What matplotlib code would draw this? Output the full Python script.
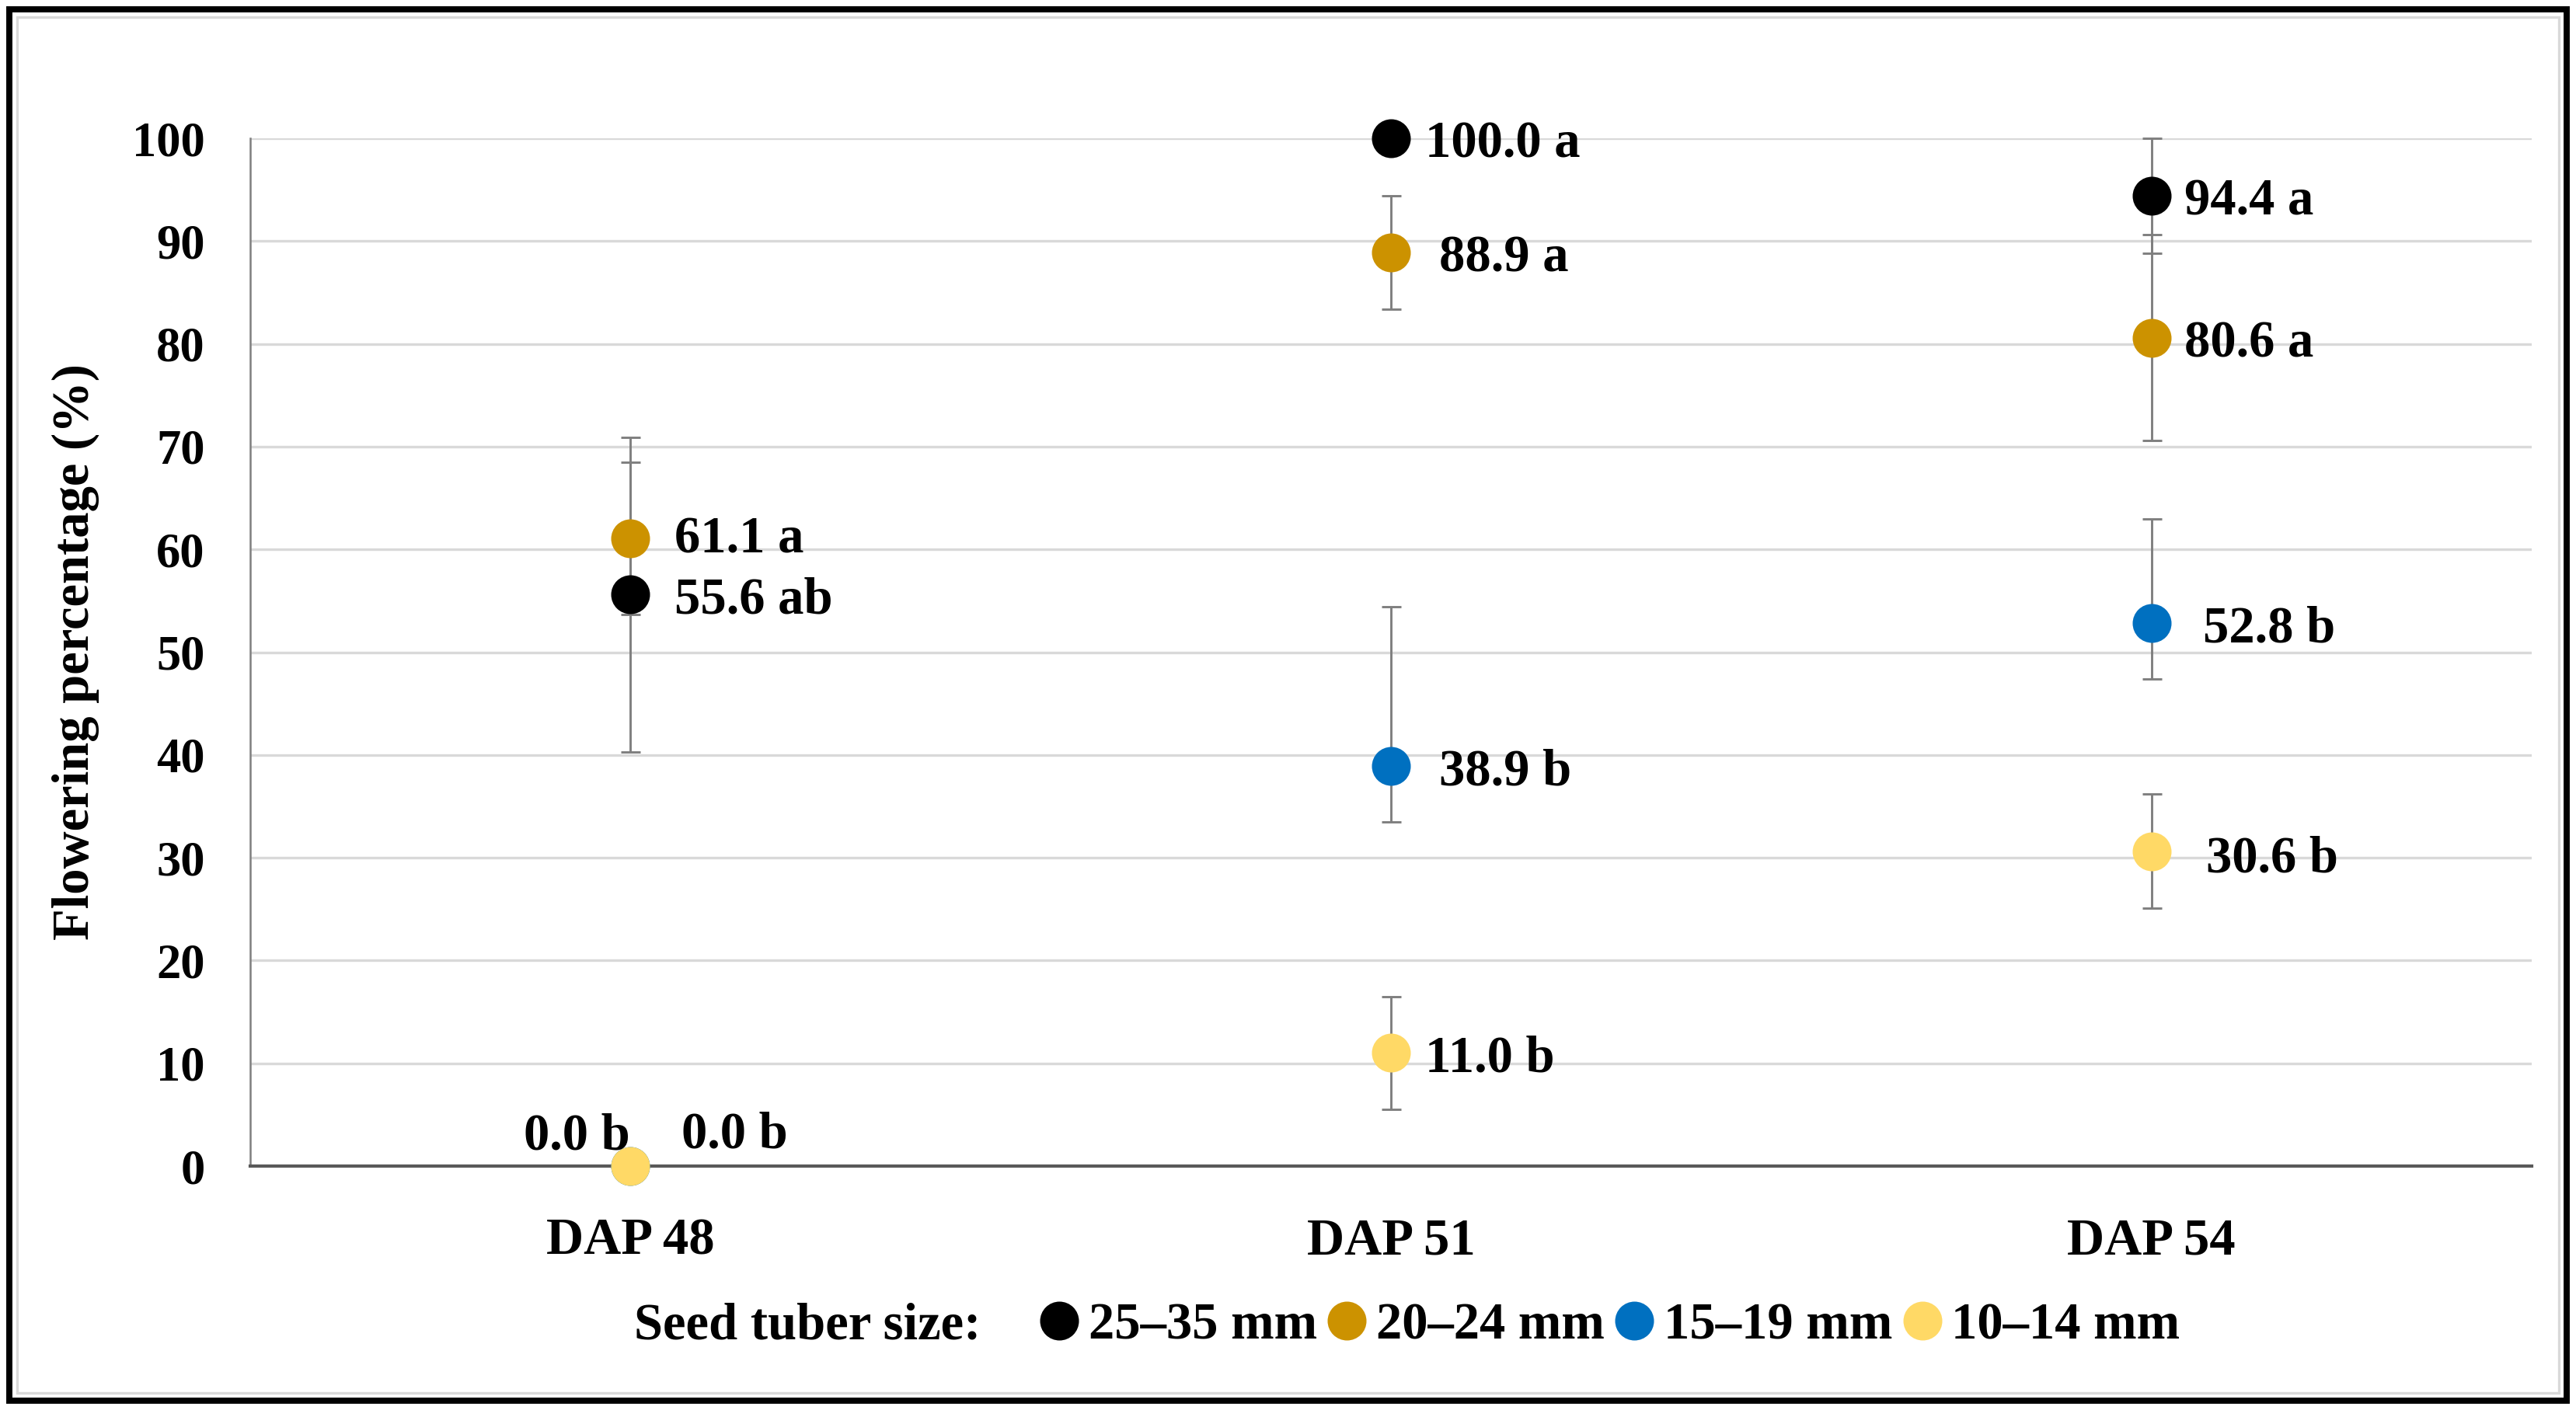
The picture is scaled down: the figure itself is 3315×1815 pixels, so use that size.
import numpy as np
import matplotlib.pyplot as plt
from matplotlib.lines import Line2D
from matplotlib.patches import Rectangle

plt.rcParams["font.family"] = ["Liberation Serif", "DejaVu Serif"]
plt.rcParams["font.weight"] = "bold"

# data
days = ["DAP 48", "DAP 51", "DAP 54"]
sizes = ["25–35 mm", "20–24 mm", "15–19 mm", "10–14 mm"]

flower_25_35 = [55.6, 100.0, 94.4]
flower_20_24 = [61.1, 88.9, 80.6]
flower_15_19 = [0.0, 38.9, 52.8]
flower_10_14 = [0.0, 11.0, 30.6]

err_lo_25_35 = [15.3, 0.0, 5.6]
err_hi_25_35 = [15.3, 0.0, 5.6]
err_lo_20_24 = [7.4, 5.5, 10.0]
err_hi_20_24 = [7.4, 5.5, 10.0]
err_lo_15_19 = [0.0, 5.4, 5.4]
err_hi_15_19 = [0.0, 15.5, 10.2]
err_lo_10_14 = [0.0, 5.5, 5.5]
err_hi_10_14 = [0.0, 5.5, 5.6]

letters_25_35 = ["ab", "a", "a"]
letters_20_24 = ["a", "a", "a"]
letters_15_19 = ["b", "b", "b"]
letters_10_14 = ["b", "b", "b"]

colors = ["#000000", "#CC9200", "#0070C0", "#FFD966"]

series = [
    (flower_25_35, err_lo_25_35, err_hi_25_35, letters_25_35),
    (flower_20_24, err_lo_20_24, err_hi_20_24, letters_20_24),
    (flower_15_19, err_lo_15_19, err_hi_15_19, letters_15_19),
    (flower_10_14, err_lo_10_14, err_hi_10_14, letters_10_14),
]

# label offsets in pixels (dx, dy, ha) per series / day
px = 72 / 300
label_offsets = [
    [(57, -8, "left"), (44, -8, "left"), (42, -8, "left")],
    [(57, -2, "left"), (62, -8, "left"), (42, -8, "left")],
    [(0, 38, "right"), (62, -8, "left"), (66, -8, "left")],
    [(66, 40, "left"), (44, -8, "left"), (70, -10, "left")],
]

fig = plt.figure(figsize=(11.05, 6.05), dpi=300)
ax = fig.add_axes([0.0971, 0.1730, 0.8857, 0.7289])

x = np.arange(len(days)) + 0.5
for k, (vals, lo, hi, let) in enumerate(series):
    ax.errorbar(x, vals, yerr=[lo, hi], fmt="none", ecolor="#7f7f7f",
                elinewidth=0.7, capsize=3, capthick=0.7, zorder=3, clip_on=False)
    ax.plot(x, vals, "o", color=colors[k], markersize=11, linestyle="none",
            zorder=4 + k, clip_on=False)
    for i, v in enumerate(vals):
        dx, dy, ha = label_offsets[k][i]
        ax.annotate(f"{v:.1f} {let[i]}", (x[i], v), xytext=(dx * px, dy * px),
                    textcoords="offset points", ha=ha, va="center",
                    fontsize=16, fontweight="bold", zorder=10)

ax.set_xlim(0, 3)
ax.set_ylim(0, 100)
ax.set_yticks(np.arange(0, 101, 10))
ax.set_xticks(x)
ax.set_xticklabels(days)
ax.tick_params(axis="both", length=0, labelsize=15)
ax.tick_params(axis="y", pad=14)
ax.tick_params(axis="x", pad=16, labelsize=16)
ax.yaxis.grid(True, color="#d9d9d9", linewidth=0.8)
ax.set_axisbelow(True)
for s in ["top", "right"]:
    ax.spines[s].set_visible(False)
ax.spines["left"].set_color("#7f7f7f")
ax.spines["left"].set_linewidth(0.6)
ax.spines["bottom"].set_color("#595959")
ax.spines["bottom"].set_linewidth(1.0)
ax.spines["bottom"].set_zorder(3.5)
ax.set_ylabel("Flowering percentage (%)", fontsize=16, fontweight="bold", labelpad=10)

# legend row
fig.text(816 / 3315, 0.0595, "Seed tuber size:", fontsize=16, fontweight="bold",
         ha="left", va="center")
handles = [Line2D([], [], marker="o", linestyle="none", color=c, markersize=11)
           for c in colors]
fig.legend(handles, sizes, ncol=4, loc="center left",
           bbox_to_anchor=(1330 / 3315, 0.0595), frameon=False, fontsize=16,
           borderpad=0, borderaxespad=0, handlelength=1.0, handletextpad=0.06,
           columnspacing=0.08)

# outer frame
fig.patches.append(Rectangle((22 / 3315, 22 / 1815), 1 - 44 / 3315, 1 - 44 / 1815,
                             transform=fig.transFigure, fill=False,
                             edgecolor="#d9d9d9", linewidth=0.8))
fig.patches.append(Rectangle((12 / 3315, 12 / 1815), 1 - 24 / 3315, 1 - 24 / 1815,
                             transform=fig.transFigure, fill=False,
                             edgecolor="black", linewidth=1.9))

fig.savefig("out.png", dpi=300)
